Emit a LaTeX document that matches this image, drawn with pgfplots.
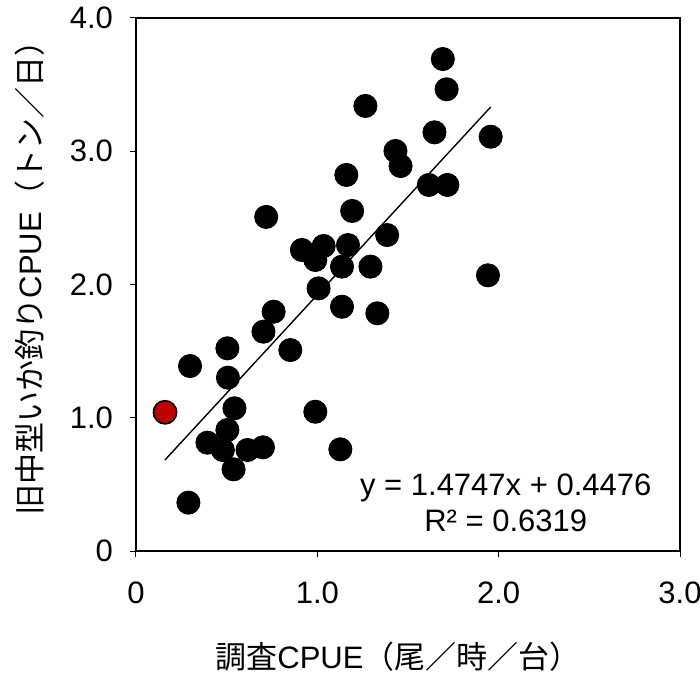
\documentclass[border=0pt]{standalone}
\usepackage{pgfplots}
\pgfplotsset{compat=1.18}
\usepackage{fontspec}
\setmainfont{Liberation Sans}
\newfontfamily\cjk{Noto Sans CJK JP}
\definecolor{ptred}{HTML}{C00000}

\begin{document}
\begin{tikzpicture}
\begin{axis}[
  name=ax,
  scale only axis,
  width=272pt, height=266.5pt,
  xmin=0, xmax=3, ymin=0, ymax=4,
  xtick={0,1,2,3}, xticklabels={0,1.0,2.0,3.0},
  ytick={0,1,2,3,4}, yticklabels={0,1.0,2.0,3.0,4.0},
  tick align=outside,
  xtick pos=bottom, ytick pos=left,
  major tick length=3pt,
  tick style={black, line width=0.5pt},
  axis line style={black, line width=1.4pt},
  /pgf/number format/assume math mode=true,
  ticklabel style={font=\fontsize{15.5}{18}\selectfont},
  xticklabel style={yshift=-9pt},
  yticklabel style={xshift=-5pt},
  xlabel={\fontsize{15.5}{18}\selectfont{\cjk 調査}CPUE{\cjk （尾／時／台）}},
  ylabel={\fontsize{15.5}{18}\selectfont{\cjk 旧中型いか釣り}CPUE{\cjk （トン／日）}},
  xlabel style={yshift=-12pt, xshift=-5pt},
  ylabel style={yshift=6pt, xshift=7pt},
  clip=false,
]
% survey observations
\addplot[only marks, mark=*, mark size=5.8pt, mark options={fill=black, draw=black}] coordinates {
(0.298,1.388) (0.289,0.363) (0.504,1.521) (0.507,1.301) (0.543,1.071)
(0.394,0.813) (0.479,0.758) (0.504,0.908) (0.538,0.613) (0.615,0.758)
(0.700,0.778) (0.703,1.646) (0.718,2.507) (0.759,1.796) (0.851,1.508)
(0.915,2.259) (0.989,2.184) (1.035,2.289) (1.007,1.971) (0.989,1.045)
(1.160,2.822) (1.192,2.552) (1.169,2.296) (1.136,2.134) (1.136,1.833)
(1.127,0.763) (1.265,3.340) (1.293,2.134) (1.331,1.784) (1.385,2.371)
(1.431,3.002) (1.459,2.889) (1.646,3.142) (1.615,2.747) (1.692,3.692)
(1.713,3.465) (1.717,2.747) (1.956,3.109) (1.941,2.069)
};
% highlighted observation
\addplot[only marks, mark=*, mark size=5.8pt, mark options={fill=ptred, draw=black, line width=0.8pt}] coordinates {(0.160,1.041)};
% linear fit y = 1.4747x + 0.4476
\addplot[black, line width=0.7pt] coordinates {(0.160,0.6836) (1.956,3.3321)};
\node[font=\fontsize{15.5}{18}\selectfont] at (axis cs:2.039,0.473) {y = 1.4747x + 0.4476};
\node[font=\fontsize{15.5}{18}\selectfont] at (axis cs:2.039,0.225) {R² = 0.6319};
\end{axis}
\pgfresetboundingbox
\path (ax.south west) ++(-68pt,-61pt) coordinate (bl);
\path (ax.north east) ++(10pt,9pt) coordinate (tr);
\path (bl) rectangle (tr);
\end{tikzpicture}
\end{document}
